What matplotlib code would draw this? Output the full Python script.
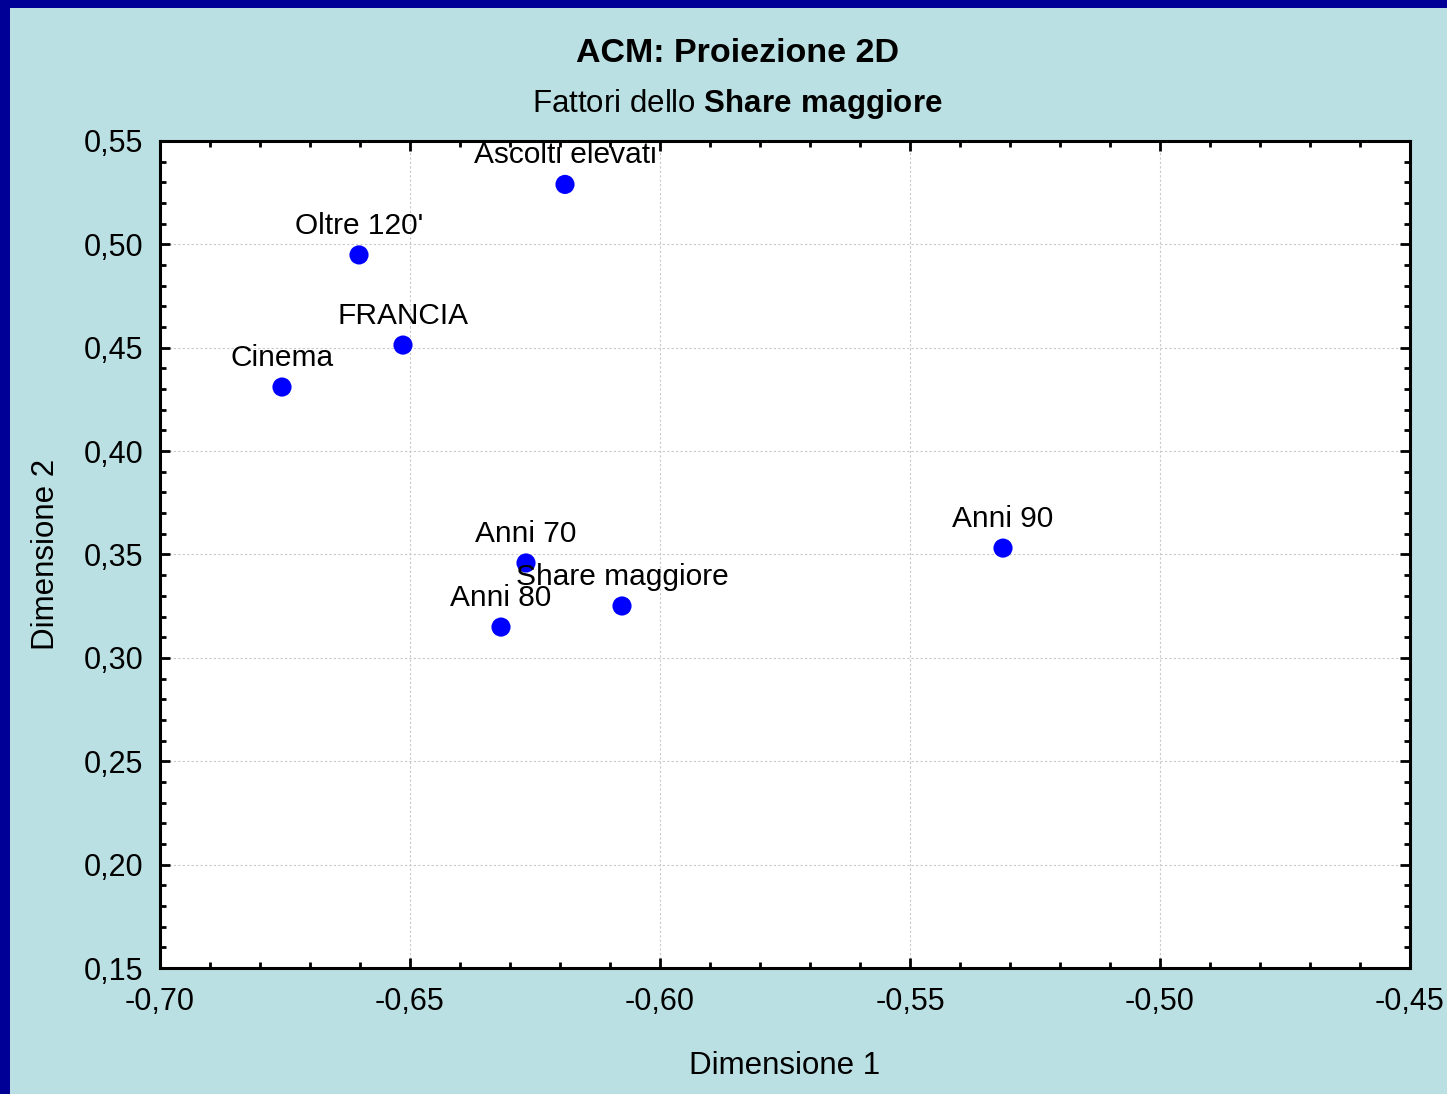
import matplotlib.pyplot as plt
from matplotlib.patches import Rectangle
from matplotlib.ticker import MultipleLocator, FuncFormatter

plt.rcParams["font.family"] = ["Liberation Sans", "DejaVu Sans"]
plt.rcParams["mathtext.fontset"] = "custom"
plt.rcParams["mathtext.rm"] = "Liberation Sans"
plt.rcParams["mathtext.bf"] = "Liberation Sans:bold"

# Coordinate ACM
labels = ["Ascolti elevati", "Oltre 120'", "FRANCIA", "Cinema",
          "Anni 70", "Share maggiore", "Anni 80", "Anni 90"]
dim1 = [-0.619, -0.6602, -0.6514, -0.6756, -0.6268, -0.6076, -0.6318, -0.5314]
dim2 = [0.529, 0.4949, 0.4513, 0.431, 0.3459, 0.3251, 0.3149, 0.3531]

fig = plt.figure(figsize=(14.47, 10.94), dpi=100)
fig.patch.set_facecolor("#000096")
# sfondo azzurro con bordo blu solo a sinistra e in alto
fig.patches.append(Rectangle((10 / 1447, 0), 1 - 10 / 1447, 1 - 8 / 1094,
                             transform=fig.transFigure, facecolor="#BAE0E3",
                             edgecolor="none", zorder=-10))

ax = fig.add_axes([160 / 1447, 1 - 968 / 1094, 1250 / 1447, 827 / 1094])
ax.set_facecolor("white")

ax.scatter(dim1, dim2, s=190, color="#0000FF", zorder=3, edgecolors="none")
for lab, x, y in zip(labels, dim1, dim2):
    ax.annotate(lab, (x, y), xytext=(0, 21), textcoords="offset points",
                ha="center", va="center", fontsize=21.5, zorder=4)

ax.set_xlim(-0.70, -0.45)
ax.set_ylim(0.15, 0.55)
ax.xaxis.set_major_locator(MultipleLocator(0.05))
ax.xaxis.set_minor_locator(MultipleLocator(0.01))
ax.yaxis.set_major_locator(MultipleLocator(0.05))
ax.yaxis.set_minor_locator(MultipleLocator(0.01))
fmt = FuncFormatter(lambda v, p: f"{v:.2f}".replace(".", ","))
ax.xaxis.set_major_formatter(fmt)
ax.yaxis.set_major_formatter(fmt)

ax.tick_params(which="both", direction="in", top=True, right=True,
               labelsize=22, width=2, color="black")
ax.tick_params(which="major", length=7, pad=14)
ax.tick_params(axis="y", which="major", pad=12)
ax.tick_params(which="minor", length=4)
ax.grid(which="major", linestyle=(0, (2, 2)), color="#C8C8C8", linewidth=0.8)
for sp in ax.spines.values():
    sp.set_linewidth(2.2)

ax.set_xlabel("Dimensione 1", fontsize=22.5, labelpad=24)
ax.set_ylabel("Dimensione 2", fontsize=22.5, labelpad=16)

fig.text(737 / 1447, 1 - 54 / 1094, "ACM: Proiezione 2D", ha="center",
         va="center", fontsize=24.5, fontweight="bold")
fig.text(737 / 1447, 1 - 104 / 1094,
         r"Fattori dello $\bf{Share\ maggiore}$", ha="center", va="center",
         fontsize=22.5)

plt.savefig("out.png", dpi=100, facecolor=fig.get_facecolor())
